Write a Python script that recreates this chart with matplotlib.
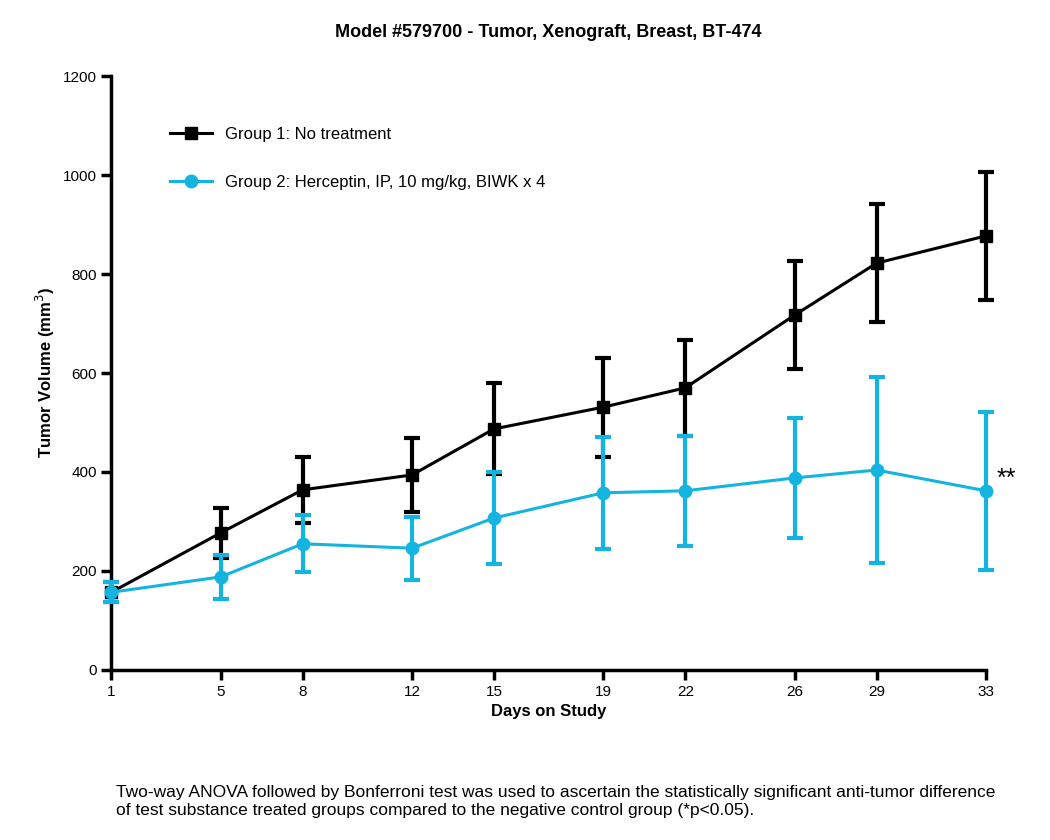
import matplotlib.pyplot as plt
from matplotlib.lines import Line2D

days = [1, 5, 8, 12, 15, 19, 22, 26, 29, 33]
g1_mean = [157, 277, 364, 394, 487, 531, 570, 717, 822, 877]
g1_err = [20, 50, 67, 75, 92, 100, 97, 109, 119, 130]
g2_mean = [157, 188, 255, 246, 307, 358, 362, 388, 404, 362]
g2_err = [20, 44, 58, 64, 92, 113, 111, 121, 188, 159]

plt.rcParams['font.family'] = ['Liberation Sans', 'DejaVu Sans']
fig = plt.figure(figsize=(10.5, 8.4), dpi=100)
ax = fig.add_axes([0.106, 0.2024, 0.833, 0.7071])

ax.errorbar(days, g1_mean, yerr=g1_err, color='black', marker='s', markersize=9,
            linewidth=2.2, elinewidth=3, capsize=6, capthick=3,
            clip_on=False, zorder=3)
ax.errorbar(days, g2_mean, yerr=g2_err, color='#14b4e0', marker='o', markersize=9,
            linewidth=2.2, elinewidth=3, capsize=6, capthick=3,
            clip_on=False, zorder=4)
ax.text(days[-1] + 0.4, g2_mean[-1] + 25, '**', fontsize=18, va='center')

handles = [Line2D([], [], color='black', marker='s', markersize=9, linewidth=2.2),
           Line2D([], [], color='#14b4e0', marker='o', markersize=9, linewidth=2.2)]
ax.legend(handles, ['Group 1: No treatment', 'Group 2: Herceptin, IP, 10 mg/kg, BIWK x 4'],
          loc='upper left', bbox_to_anchor=(0.05, 0.94), frameon=False,
          fontsize=12, labelspacing=2.0, handlelength=2.5)

ax.set_xlim(1, 33)
ax.set_ylim(0, 1200)
ax.set_xticks(days)
ax.set_yticks(range(0, 1201, 200))
for s in ['top', 'right']:
    ax.spines[s].set_visible(False)
for s in ['left', 'bottom']:
    ax.spines[s].set_linewidth(2.5)
ax.tick_params(width=2.5, length=7, labelsize=11)
ax.set_xlabel('Days on Study', fontsize=12, fontweight='bold')
ax.set_ylabel('Tumor Volume (mm$^3$)', fontsize=12, fontweight='bold')
ax.set_title('Model #579700 - Tumor, Xenograft, Breast, BT-474', fontsize=13,
             fontweight='bold', pad=28)

fig.text(0.11, 0.03, 'Two-way ANOVA followed by Bonferroni test was used to ascertain the statistically significant anti-tumor difference\n'
         'of test substance treated groups compared to the negative control group (*p<0.05).', fontsize=12.5)
fig.savefig('out.png')
